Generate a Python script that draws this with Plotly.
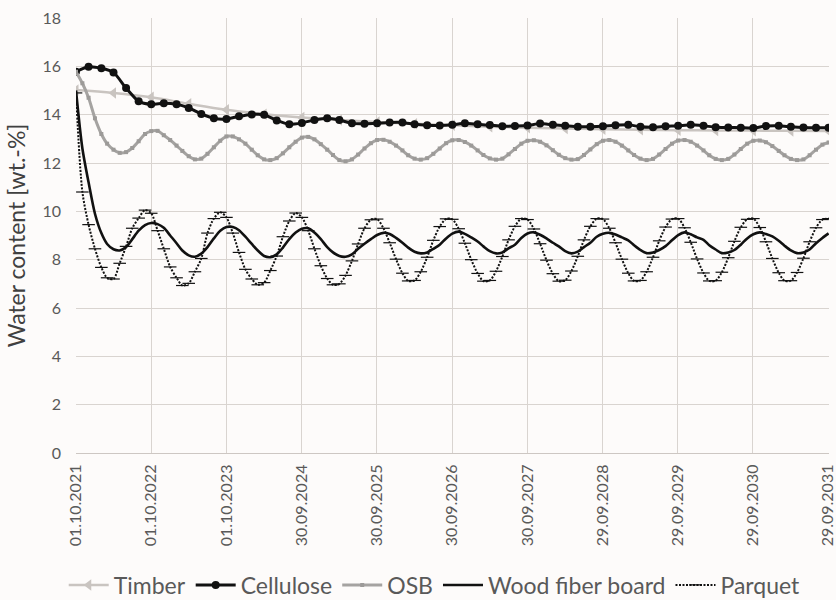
import plotly.graph_objects as go
import pandas as pd

# ---------------- data ----------------
tick_dates = ["2021-10-01", "2022-10-01", "2023-10-01", "2024-09-30", "2025-09-30",
              "2026-09-30", "2027-09-30", "2028-09-29", "2029-09-29", "2030-09-29", "2031-09-29"]
tick_labels = ["01.10.2021", "01.10.2022", "01.10.2023", "30.09.2024", "30.09.2025",
               "30.09.2026", "30.09.2027", "29.09.2028", "29.09.2029", "29.09.2030", "29.09.2031"]

months = pd.date_range("2021-10-01", periods=121, freq="MS")
bimonths = pd.date_range("2021-10-01", periods=61, freq="2MS")
halfyears = pd.date_range("2021-10-01", periods=21, freq="6MS")

timber = [15.02, 14.9, 14.72, 14.45, 14.2, 14.02, 13.88, 13.78, 13.7, 13.62, 13.56,
          13.5, 13.46, 13.43, 13.4, 13.38, 13.36, 13.35, 13.34, 13.33, 13.32]

cellulose = [15.78, 15.98, 15.92, 15.75, 15.1, 14.55, 14.43, 14.47, 14.43, 14.28, 14.03,
             13.85, 13.82, 13.93, 14.01, 14.0, 13.76, 13.6, 13.66, 13.78, 13.85, 13.78,
             13.64, 13.62, 13.64, 13.68, 13.68, 13.6, 13.56, 13.55, 13.58, 13.64, 13.6,
             13.57, 13.52, 13.53, 13.55, 13.63, 13.58, 13.54, 13.5, 13.5, 13.52, 13.56,
             13.58, 13.5, 13.48, 13.52, 13.54, 13.58, 13.54, 13.48, 13.47, 13.46, 13.45,
             13.53, 13.54, 13.5, 13.47, 13.46, 13.46]

osb = [15.78, 15.3, 14.7, 13.85, 13.2, 12.8, 12.55, 12.42, 12.45, 12.62, 12.9, 13.2,
       13.32, 13.33, 13.15, 12.95, 12.72, 12.5, 12.28, 12.15, 12.18, 12.38, 12.65, 12.92,
       13.1, 13.1, 12.98, 12.8, 12.55, 12.32, 12.15, 12.12, 12.2, 12.4, 12.65, 12.88,
       13.05, 13.08, 12.98, 12.78, 12.55, 12.33, 12.12, 12.07, 12.15, 12.35, 12.6, 12.82,
       12.95, 12.96, 12.88, 12.72, 12.52, 12.32, 12.18, 12.14, 12.2, 12.38, 12.6, 12.82,
       12.94, 12.95, 12.87, 12.72, 12.52, 12.33, 12.19, 12.14, 12.18, 12.36, 12.58, 12.8,
       12.92, 12.94, 12.88, 12.73, 12.53, 12.34, 12.2, 12.14, 12.16, 12.33, 12.56, 12.78,
       12.92, 12.95, 12.88, 12.72, 12.52, 12.33, 12.18, 12.12, 12.17, 12.35, 12.58, 12.8,
       12.93, 12.95, 12.88, 12.72, 12.52, 12.32, 12.17, 12.12, 12.17, 12.35, 12.58, 12.8,
       12.92, 12.93, 12.86, 12.7, 12.5, 12.32, 12.17, 12.12, 12.15, 12.32, 12.55, 12.76,
       12.85]

wood_fiber = [15.0, 12.6, 11.2, 9.9, 9.1, 8.65, 8.43, 8.38, 8.52, 8.85, 9.2, 9.43,
              9.52, 9.47, 9.32, 9.0, 8.68, 8.38, 8.18, 8.12, 8.25, 8.52, 8.88, 9.2,
              9.35, 9.35, 9.22, 8.95, 8.65, 8.38, 8.15, 8.1, 8.22, 8.5, 8.85, 9.12,
              9.28, 9.3, 9.12, 8.85, 8.52, 8.3, 8.15, 8.12, 8.22, 8.45, 8.66, 8.85,
              9.02, 9.11, 9.06, 8.9, 8.7, 8.5, 8.33, 8.26, 8.3, 8.45, 8.62, 8.88,
              9.08, 9.16, 9.07, 8.92, 8.75, 8.55, 8.35, 8.26, 8.3, 8.47, 8.62, 8.9,
              9.08, 9.13, 9.03, 8.88, 8.7, 8.55, 8.35, 8.26, 8.33, 8.52, 8.7, 8.95,
              9.07, 9.11, 9.04, 8.92, 8.8, 8.6, 8.4, 8.27, 8.3, 8.4, 8.56, 8.8,
              9.02, 9.13, 9.05, 8.92, 8.82, 8.6, 8.42, 8.27, 8.3, 8.4, 8.62, 8.88,
              9.05, 9.13, 9.06, 8.96, 8.78, 8.58, 8.38, 8.27, 8.3, 8.42, 8.68, 8.9,
              9.09]

parquet = [14.9, 10.8, 9.45, 8.45, 7.68, 7.25, 7.2, 7.85, 8.55, 9.3, 9.72, 10.05,
           9.92, 9.2, 8.45, 7.7, 7.25, 6.93, 7.02, 7.5, 8.05, 9.1, 9.7, 9.96,
           9.75, 9.1, 8.3, 7.6, 7.2, 6.96, 7.05, 7.55, 8.15, 8.95, 9.6, 9.93,
           9.75, 9.2, 8.45, 7.75, 7.22, 6.96, 7.0, 7.35, 7.95, 8.65, 9.3, 9.65,
           9.68, 9.3, 8.7, 8.02, 7.44, 7.12, 7.14, 7.5, 8.1, 8.8, 9.37, 9.69,
           9.67, 9.28, 8.68, 8.0, 7.43, 7.11, 7.14, 7.52, 8.13, 8.82, 9.38, 9.7,
           9.66, 9.27, 8.66, 7.98, 7.42, 7.11, 7.15, 7.53, 8.14, 8.82, 9.38, 9.7,
           9.68, 9.3, 8.7, 8.02, 7.44, 7.12, 7.14, 7.5, 8.1, 8.78, 9.35, 9.68,
           9.7, 9.32, 8.72, 8.03, 7.45, 7.12, 7.13, 7.48, 8.08, 8.76, 9.34, 9.67,
           9.7, 9.33, 8.74, 8.05, 7.46, 7.13, 7.13, 7.47, 8.06, 8.74, 9.32, 9.66,
           9.7]

# ---------------- figure ----------------
FONT = "Lato"
TXT = "#595959"
GRID = "#d9d4d0"

fig = go.Figure()
fig.add_trace(go.Scatter(
    x=halfyears, y=timber, name="Timber", mode="lines+markers",
    line=dict(color="#c9c4c0", width=2.5, shape="spline"),
    marker=dict(symbol="triangle-left", size=10, color="#c9c4c0")))
fig.add_trace(go.Scatter(
    x=bimonths, y=cellulose, name="Cellulose", mode="lines+markers",
    line=dict(color="#111111", width=3, shape="spline", smoothing=0.6),
    marker=dict(symbol="circle", size=8, color="#111111")))
fig.add_trace(go.Scatter(
    x=months, y=osb, name="OSB", mode="lines+markers",
    line=dict(color="#a5a3a1", width=3, shape="spline", smoothing=0.8),
    marker=dict(symbol="square", size=4, color="#9c9a98")))
fig.add_trace(go.Scatter(
    x=months, y=wood_fiber, name="Wood fiber board", mode="lines",
    line=dict(color="#111111", width=2.6, shape="spline", smoothing=0.8)))
fig.add_trace(go.Scatter(
    x=months, y=parquet, name="Parquet", mode="lines+markers",
    line=dict(color="#111111", width=2, dash="2px,1.5px", shape="spline", smoothing=0.8),
    marker=dict(symbol="line-ew", size=9, color="#111111",
                line=dict(color="#111111", width=1.2))))

fig.update_layout(
    width=836, height=600,
    margin=dict(l=76, r=0, t=18, b=147),
    paper_bgcolor="#fdfbfa", plot_bgcolor="#fdfbfa",
    font=dict(family=FONT, color=TXT, size=16),
    showlegend=True,
    legend=dict(orientation="h", xref="container", yref="container",
                x=0.52, xanchor="center", y=0.025, yanchor="middle",
                font=dict(family=FONT, size=23, color=TXT),
                itemwidth=40, tracegroupgap=0, bgcolor="rgba(0,0,0,0)"),
)
fig.update_xaxes(
    type="date", range=["2021-10-01", "2031-10-03"],
    tickmode="array", tickvals=tick_dates, ticktext=tick_labels,
    tickangle=-90, tickfont=dict(family=FONT, size=16, color=TXT),
    ticklabeloverflow="allow",
    showgrid=True, gridcolor=GRID, gridwidth=1,
    showline=True, linecolor="#cdc7c3", linewidth=1.3,
    ticks="", ticklabelstandoff=4, zeroline=False)
fig.update_yaxes(
    range=[0, 18], dtick=2, tick0=0,
    tickfont=dict(family=FONT, size=16, color=TXT),
    showgrid=True, gridcolor=GRID, gridwidth=1, zeroline=False,
    ticks="", ticklabelstandoff=14,
    title=dict(text="Water content [wt.-%]", font=dict(family=FONT, size=23, color="#404040"),
               standoff=10))

fig.write_html("out.html")
